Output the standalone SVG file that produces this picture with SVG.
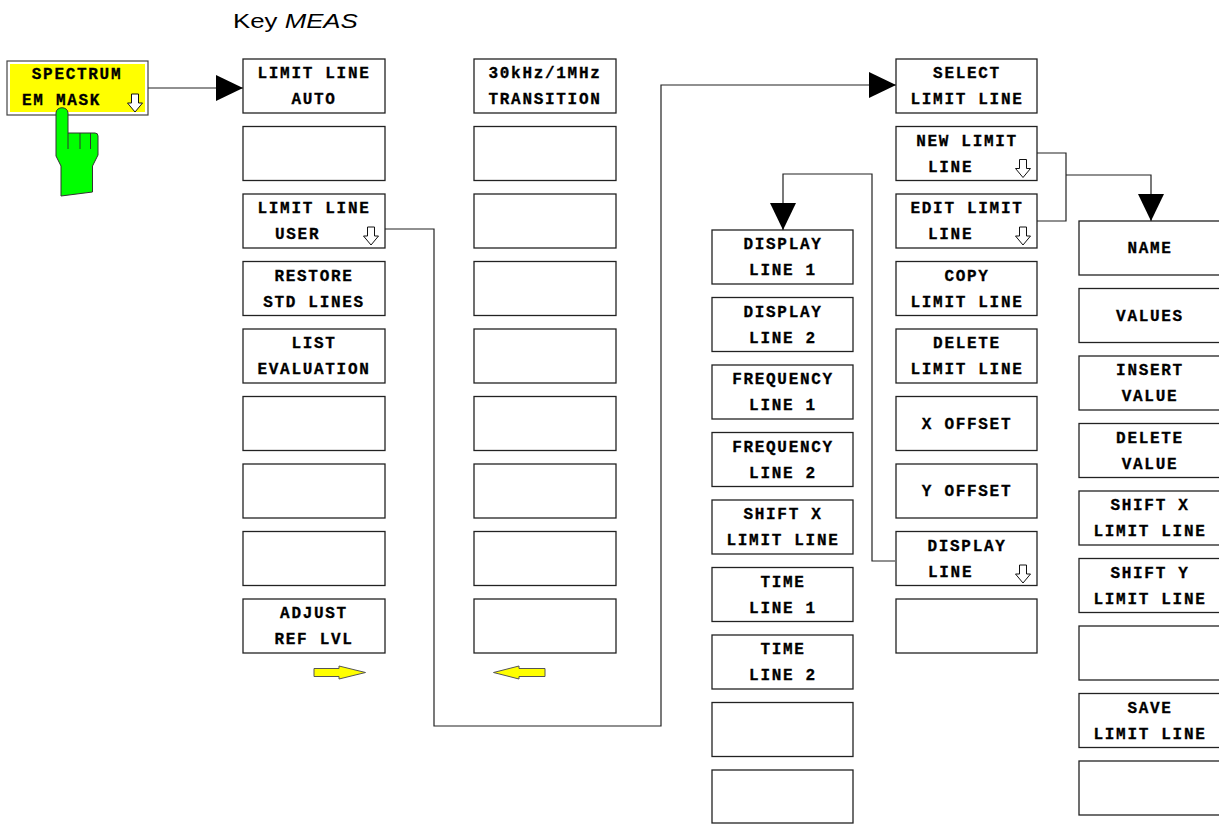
<svg xmlns="http://www.w3.org/2000/svg" xmlns:xlink="http://www.w3.org/1999/xlink" width="1219" height="824" viewBox="0 0 1219 824">
<style>
.bx{fill:#fff;stroke:#222;stroke-width:1.3}
.t{font-family:"Liberation Mono","DejaVu Sans Mono",monospace;font-weight:bold;font-size:16px;letter-spacing:1.7px;fill:#000;stroke:#000;stroke-width:0.3}
.m{text-anchor:middle}
.cn{fill:none;stroke:#222;stroke-width:1.2}
.dn{fill:#fff;stroke:#111;stroke-width:1}
.ya{fill:#ffff00;stroke:#555;stroke-width:1}
</style>
<defs>
<path id="dn" class="dn" d="M-3.5,0 H3.5 V9 H7.5 L0,18 L-7.5,9 H-3.5 Z"/>
<marker id="ah" markerUnits="userSpaceOnUse" markerWidth="28" markerHeight="26" refX="27" refY="13" orient="auto">
<path d="M0,0 L27,13 L0,26 Z" fill="#000"/>
</marker>
</defs>
<rect width="1219" height="824" fill="#fff"/>
<g transform="translate(233,28) scale(1.23,1)"><text x="0" y="0" font-family="Liberation Sans, Arial, sans-serif" font-size="21" fill="#000">Key <tspan font-style="italic">MEAS</tspan></text></g>

<g id="connectors">
<path class="cn" d="M148,88 H243" marker-end="url(#ah)"/>
<path class="cn" d="M385,229 H434 V726 H661 V85 H896" marker-end="url(#ah)"/>
<path class="cn" d="M895,561 H872 V174 H783 V230" marker-end="url(#ah)"/>
<path class="cn" d="M1037,153 H1066 V221 H1037"/>
<path class="cn" d="M1066,175 H1151 V221" marker-end="url(#ah)"/>
<polygon class="ya" points="314,668.5 339,668.5 339,666 365.5,672.5 339,679 339,676.5 314,676.5"/>
<polygon class="ya" points="545,668.5 519,668.5 519,666 493.5,672.5 519,679 519,676.5 545,676.5"/>
</g>

<g id="spectrum-em-mask">
<rect x="7" y="61" width="141" height="54" fill="#fff" stroke="#444" stroke-width="1.2"/>
<rect x="10" y="64" width="135" height="48" fill="#ffff00"/>
<text class="t m" x="77" y="79">SPECTRUM</text>
<text class="t" x="22" y="105">EM MASK</text>
<use href="#dn" transform="translate(135,94)"/>
</g>
<g id="hand">
<path d="M56,113 C56,106 68,106 68,113 L68,133 L95,133 Q98,133 98,136 L98,155 L92.5,166 L92.5,192 L61,196 L61,166 L56,156 Z" fill="#00ff00" stroke="#333" stroke-width="1"/>
<path d="M68,133 V149 M80,133 V149 M90.5,133 V149" fill="none" stroke="#333" stroke-width="1"/>
</g>

<!-- column 1 -->
<g id="limit-line-auto"><rect class="bx" x="243" y="59" width="142" height="54"/><text class="t m" x="314" y="78">LIMIT LINE</text><text class="t m" x="314" y="104">AUTO</text></g>
<g id="c1-empty1"><rect class="bx" x="243" y="126.5" width="142" height="54"/></g>
<g id="limit-line-user"><rect class="bx" x="243" y="194" width="142" height="54"/><text class="t m" x="314" y="213">LIMIT LINE</text><text class="t" x="275" y="239">USER</text><use href="#dn" transform="translate(371,227)"/></g>
<g id="restore-std-lines"><rect class="bx" x="243" y="261.5" width="142" height="54"/><text class="t m" x="314" y="280.5">RESTORE</text><text class="t m" x="314" y="306.5">STD LINES</text></g>
<g id="list-evaluation"><rect class="bx" x="243" y="329" width="142" height="54"/><text class="t m" x="314" y="348">LIST</text><text class="t m" x="314" y="374">EVALUATION</text></g>
<g id="c1-empty5"><rect class="bx" x="243" y="396.5" width="142" height="54"/></g>
<g id="c1-empty6"><rect class="bx" x="243" y="464" width="142" height="54"/></g>
<g id="c1-empty7"><rect class="bx" x="243" y="531.5" width="142" height="54"/></g>
<g id="adjust-ref-lvl"><rect class="bx" x="243" y="599" width="142" height="54"/><text class="t m" x="314" y="618">ADJUST</text><text class="t m" x="314" y="644">REF LVL</text></g>

<!-- column 2 -->
<g id="transition"><rect class="bx" x="474" y="59" width="142" height="54"/><text class="t m" x="545" y="78">30kHz/1MHz</text><text class="t m" x="545" y="104">TRANSITION</text></g>
<g id="c2-empty1"><rect class="bx" x="474" y="126.5" width="142" height="54"/></g>
<g id="c2-empty2"><rect class="bx" x="474" y="194" width="142" height="54"/></g>
<g id="c2-empty3"><rect class="bx" x="474" y="261.5" width="142" height="54"/></g>
<g id="c2-empty4"><rect class="bx" x="474" y="329" width="142" height="54"/></g>
<g id="c2-empty5"><rect class="bx" x="474" y="396.5" width="142" height="54"/></g>
<g id="c2-empty6"><rect class="bx" x="474" y="464" width="142" height="54"/></g>
<g id="c2-empty7"><rect class="bx" x="474" y="531.5" width="142" height="54"/></g>
<g id="c2-empty8"><rect class="bx" x="474" y="599" width="142" height="54"/></g>

<!-- column 3 -->
<g id="display-line-1"><rect class="bx" x="712" y="230" width="141" height="54"/><text class="t m" x="783" y="249">DISPLAY</text><text class="t m" x="783" y="275">LINE 1</text></g>
<g id="display-line-2"><rect class="bx" x="712" y="297.5" width="141" height="54"/><text class="t m" x="783" y="316.5">DISPLAY</text><text class="t m" x="783" y="342.5">LINE 2</text></g>
<g id="frequency-line-1"><rect class="bx" x="712" y="365" width="141" height="54"/><text class="t m" x="783" y="384">FREQUENCY</text><text class="t m" x="783" y="410">LINE 1</text></g>
<g id="frequency-line-2"><rect class="bx" x="712" y="432.5" width="141" height="54"/><text class="t m" x="783" y="451.5">FREQUENCY</text><text class="t m" x="783" y="477.5">LINE 2</text></g>
<g id="shift-x-limit-line-c3"><rect class="bx" x="712" y="500" width="141" height="54"/><text class="t m" x="783" y="519">SHIFT X</text><text class="t m" x="783" y="545">LIMIT LINE</text></g>
<g id="time-line-1"><rect class="bx" x="712" y="567.5" width="141" height="54"/><text class="t m" x="783" y="586.5">TIME</text><text class="t m" x="783" y="612.5">LINE 1</text></g>
<g id="time-line-2"><rect class="bx" x="712" y="635" width="141" height="54"/><text class="t m" x="783" y="654">TIME</text><text class="t m" x="783" y="680">LINE 2</text></g>
<g id="c3-empty7"><rect class="bx" x="712" y="702.5" width="141" height="54"/></g>
<g id="c3-empty8"><rect class="bx" x="712" y="770" width="141" height="53"/></g>

<!-- column 4 -->
<g id="select-limit-line"><rect class="bx" x="896" y="59" width="141" height="54"/><text class="t m" x="967" y="78">SELECT</text><text class="t m" x="967" y="104">LIMIT LINE</text></g>
<g id="new-limit-line"><rect class="bx" x="896" y="126.5" width="141" height="54"/><text class="t m" x="967" y="145.5">NEW LIMIT</text><text class="t" x="928" y="171.5">LINE</text><use href="#dn" transform="translate(1023,159.5)"/></g>
<g id="edit-limit-line"><rect class="bx" x="896" y="194" width="141" height="54"/><text class="t m" x="967" y="213">EDIT LIMIT</text><text class="t" x="928" y="239">LINE</text><use href="#dn" transform="translate(1023,227)"/></g>
<g id="copy-limit-line"><rect class="bx" x="896" y="261.5" width="141" height="54"/><text class="t m" x="967" y="280.5">COPY</text><text class="t m" x="967" y="306.5">LIMIT LINE</text></g>
<g id="delete-limit-line"><rect class="bx" x="896" y="329" width="141" height="54"/><text class="t m" x="967" y="348">DELETE</text><text class="t m" x="967" y="374">LIMIT LINE</text></g>
<g id="x-offset"><rect class="bx" x="896" y="396.5" width="141" height="54"/><text class="t m" x="967" y="428.5">X OFFSET</text></g>
<g id="y-offset"><rect class="bx" x="896" y="464" width="141" height="54"/><text class="t m" x="967" y="496">Y OFFSET</text></g>
<g id="display-line"><rect class="bx" x="896" y="531.5" width="141" height="54"/><text class="t m" x="967" y="550.5">DISPLAY</text><text class="t" x="928" y="576.5">LINE</text><use href="#dn" transform="translate(1023,565)"/></g>
<g id="c4-empty8"><rect class="bx" x="896" y="599" width="141" height="54"/></g>

<!-- column 5 -->
<g id="name"><rect class="bx" x="1079" y="221" width="142" height="54"/><text class="t m" x="1150" y="253">NAME</text></g>
<g id="values"><rect class="bx" x="1079" y="288.5" width="142" height="54"/><text class="t m" x="1150" y="320.5">VALUES</text></g>
<g id="insert-value"><rect class="bx" x="1079" y="356" width="142" height="54"/><text class="t m" x="1150" y="375">INSERT</text><text class="t m" x="1150" y="401">VALUE</text></g>
<g id="delete-value"><rect class="bx" x="1079" y="423.5" width="142" height="54"/><text class="t m" x="1150" y="442.5">DELETE</text><text class="t m" x="1150" y="468.5">VALUE</text></g>
<g id="shift-x-limit-line"><rect class="bx" x="1079" y="491" width="142" height="54"/><text class="t m" x="1150" y="510">SHIFT X</text><text class="t m" x="1150" y="536">LIMIT LINE</text></g>
<g id="shift-y-limit-line"><rect class="bx" x="1079" y="558.5" width="142" height="54"/><text class="t m" x="1150" y="577.5">SHIFT Y</text><text class="t m" x="1150" y="603.5">LIMIT LINE</text></g>
<g id="c5-empty6"><rect class="bx" x="1079" y="626" width="142" height="54"/></g>
<g id="save-limit-line"><rect class="bx" x="1079" y="693.5" width="142" height="54"/><text class="t m" x="1150" y="712.5">SAVE</text><text class="t m" x="1150" y="738.5">LIMIT LINE</text></g>
<g id="c5-empty8"><rect class="bx" x="1079" y="761" width="142" height="54"/></g>
</svg>
